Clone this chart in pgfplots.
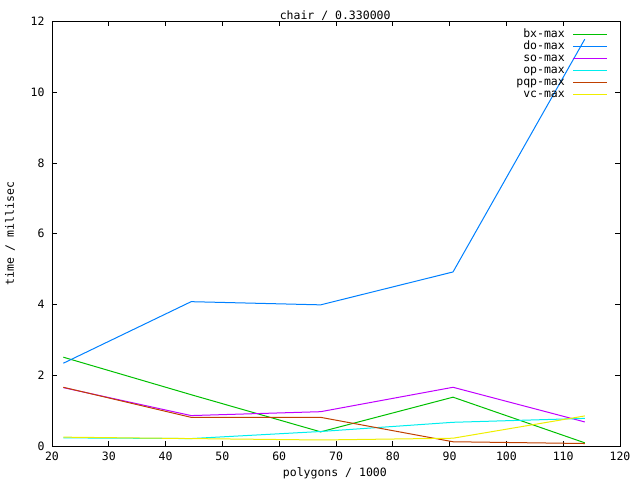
\documentclass[border=0pt]{standalone}
\usepackage{pgfplots}
\pgfplotsset{compat=1.18}
\usepackage{fontspec}
\setmainfont{DejaVu Sans Mono}
\definecolor{cbx}{HTML}{00C000}
\definecolor{cdo}{HTML}{0080FF}
\definecolor{cso}{HTML}{C000FF}
\definecolor{cop}{HTML}{00EEEE}
\definecolor{cpqp}{HTML}{C04000}
\definecolor{cvc}{HTML}{EEEE00}
\begin{document}
\begin{tikzpicture}
\useasboundingbox (-52bp,-34bp) rectangle (588bp,446bp);
\begin{axis}[
  at={(0,0)}, anchor=south west,
  scale only axis, width=568bp, height=424.5bp,
  xmin=20, xmax=120, ymin=0, ymax=12,
  xtick={20,30,...,120}, ytick={0,2,...,12},
  tick align=inside, xtick pos=both, ytick pos=both,
  major tick length=5bp,
  axis line style={line width=0.9bp},
  every tick/.style={black, line width=0.9bp},
  font=\fontsize{11.5bp}{13bp}\selectfont,
  /pgf/number format/assume math mode=true,
  ticklabel style={font=\fontsize{11.5bp}{13bp}\selectfont},
  xticklabel style={yshift=-2bp},
  yticklabel style={xshift=-4bp},
  every axis title shift=0pt,
  title={chair / 0.330000},
  title style={at={(axis description cs:0.4985,1.0147)}, anchor=center, inner sep=0pt},
  xlabel={polygons / 1000},
  xlabel style={at={(axis description cs:0.498,-0.0636)}, anchor=center, inner sep=0pt},
  ylabel={time / millisec},
  ylabel style={at={(axis description cs:-0.0739,0.5)}, anchor=center, inner sep=0pt},
  legend plot pos=right,
  legend cell align=right,
  legend style={at={(1,1)}, anchor=north east, draw=none, fill=none,
    xshift=-12bp, yshift=-7bp, inner sep=0pt, row sep=0pt, column sep=7bp,
    nodes={inner sep=1bp, text height=8bp, text depth=2bp},
    font=\fontsize{11.5bp}{13bp}\selectfont},
  legend image code/.code={\draw[#1, line width=1bp] (0bp,0bp) -- (34bp,0bp);},
  every axis plot/.append style={line width=1bp},
]
\addplot[cbx] coordinates {(22.0,2.51) (44.5,1.45) (67.3,0.40) (90.6,1.38) (113.8,0.09)};
\addlegendentry{bx-max}
\addplot[cdo] coordinates {(22.0,2.34) (44.5,4.08) (67.3,3.99) (90.6,4.92) (113.8,11.5)};
\addlegendentry{do-max}
\addplot[cso] coordinates {(22.0,1.65) (44.5,0.86) (67.3,0.97) (90.6,1.66) (113.8,0.68)};
\addlegendentry{so-max}
\addplot[cop] coordinates {(22.0,0.23) (44.5,0.21) (67.3,0.41) (90.6,0.67) (113.8,0.78)};
\addlegendentry{op-max}
\addplot[cpqp] coordinates {(22.0,1.66) (44.5,0.81) (67.3,0.81) (90.6,0.12) (113.8,0.07)};
\addlegendentry{pqp-max}
\addplot[cvc] coordinates {(22.0,0.25) (44.5,0.21) (67.3,0.17) (90.6,0.22) (113.8,0.85)};
\addlegendentry{vc-max}
\end{axis}
\end{tikzpicture}
\end{document}
